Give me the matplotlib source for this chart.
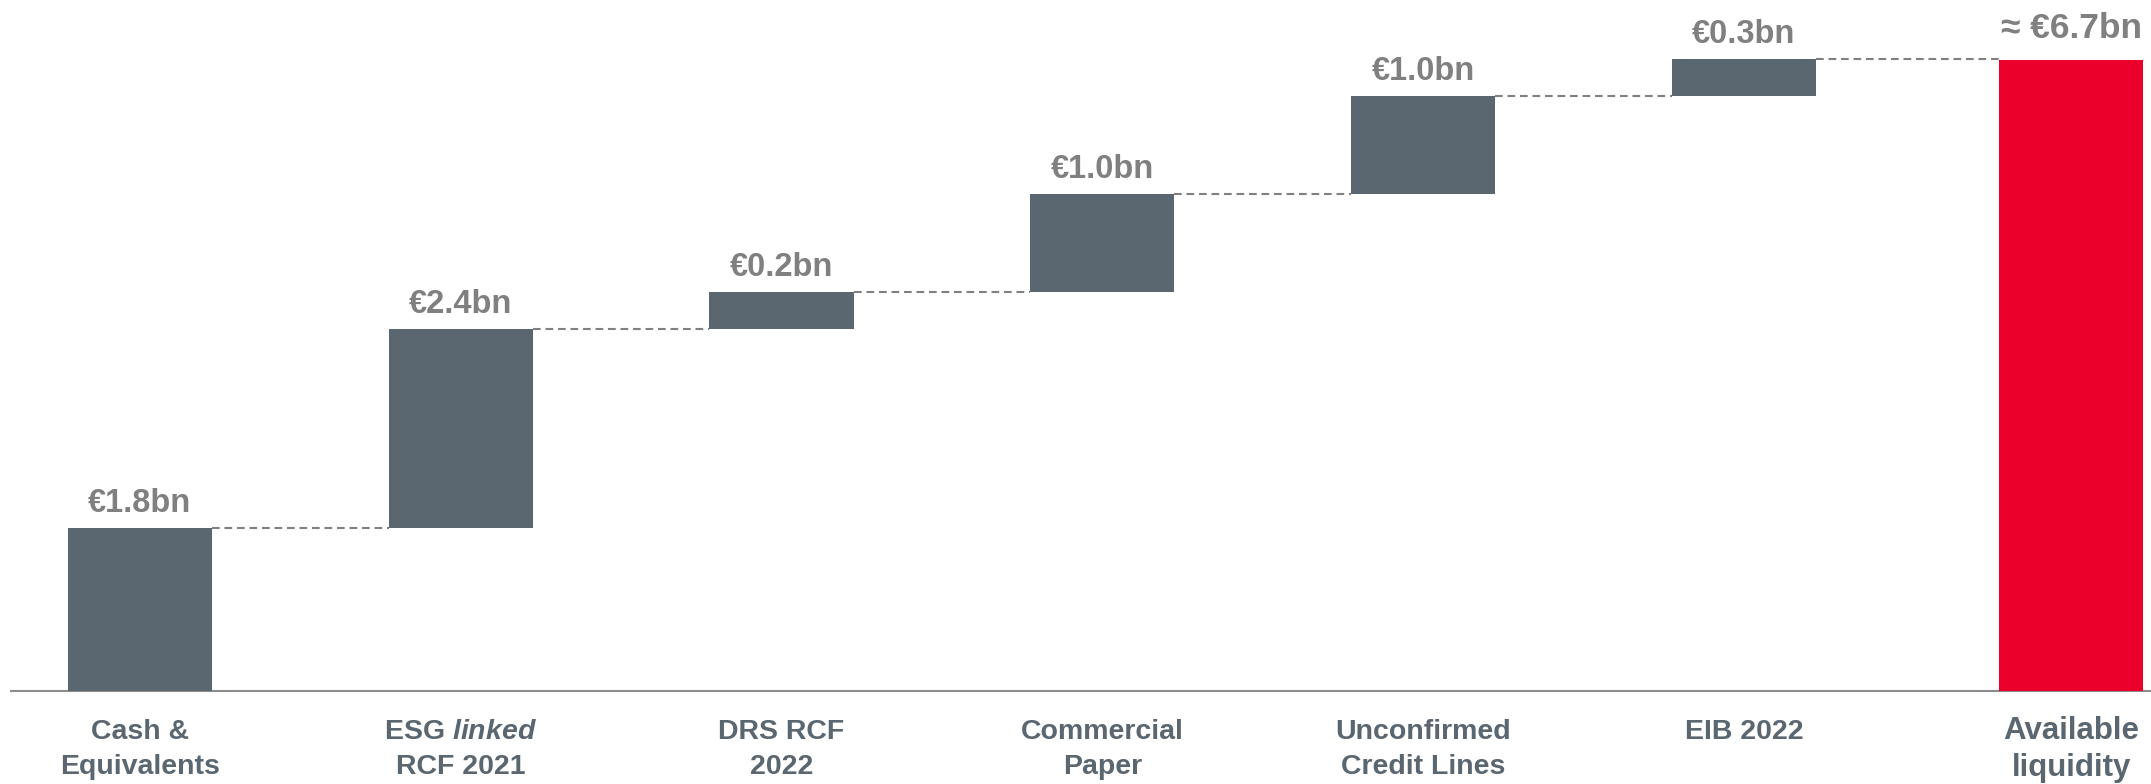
import matplotlib
matplotlib.use("Agg")
import matplotlib.pyplot as plt
import numpy as np

plt.rcParams['font.family'] = ['Liberation Sans', 'DejaVu Sans']
plt.rcParams['mathtext.fontset'] = 'custom'
plt.rcParams['mathtext.rm'] = 'Liberation Sans:bold'
plt.rcParams['mathtext.it'] = 'Liberation Sans:italic:bold'

# data (bar heights as drawn, in EUR bn)
categories = ["Cash &\nEquivalents", "ESG $\\mathit{linked}$\nRCF 2021", "DRS RCF\n2022",
              "Commercial\nPaper", "Unconfirmed\nCredit Lines", "EIB 2022", "Available\nliquidity"]
steps = [1.73, 2.11, 0.40, 1.04, 1.04, 0.39]
total = 6.70
step_labels = ["€1.8bn", "€2.4bn", "€0.2bn", "€1.0bn", "€1.0bn", "€0.3bn"]
total_label = "≈ €6.7bn"

bar_col = "#5a6670"
red = "#ea002a"
val_col = "#808080"

fig = plt.figure(figsize=(21.51, 7.84), dpi=100)
ax = fig.add_axes([0, 0, 1, 1])
ax.axis("off")
ax.set_xlim(-0.436, 6.269)
ax.set_ylim(-0.9875, 7.337)

x = np.arange(len(categories))
w = 0.449
bottoms = np.concatenate([[0], np.cumsum(steps)[:-1]])
tops = np.cumsum(steps)

# baseline
ax.plot([-0.405, 6.269], [0, 0], color="#8c8c8c", lw=1.5, zorder=1, solid_capstyle="butt")

ax.bar(x[:-1], steps, bottom=bottoms, width=w, color=bar_col, zorder=2)
ax.bar(x[-1] + 0.02, total, width=w, color=red, zorder=2)

# dashed connectors
for i in range(len(steps)):
    x_end = x[i + 1] - w / 2 + (0.02 if i == len(steps) - 1 else 0)
    ax.plot([x[i] + w / 2, x_end], [tops[i], tops[i]], color=val_col,
            lw=1.5, ls=(0, (3.7, 2.3)), zorder=1)

for i, lab in enumerate(step_labels):
    ax.annotate(lab, (x[i], tops[i]), xytext=(0, 11.5), textcoords="offset points",
                ha="center", va="baseline", fontsize=23.5, fontweight="bold", color=val_col)
ax.annotate(total_label, (x[-1] + 0.02, total), xytext=(0, 15.5), textcoords="offset points",
            ha="center", va="baseline", fontsize=25.5, fontweight="bold", color=val_col)

for i, cat in enumerate(categories[:-1]):
    ax.text(x[i], -0.30, cat, ha="center", va="top", fontsize=20.5,
            fontweight="bold", color=bar_col, linespacing=1.45)
ax.text(x[-1] + 0.02, -0.27, categories[-1], ha="center", va="top", fontsize=22.5,
        fontweight="bold", color=bar_col, linespacing=1.3)

fig.savefig("out.png", dpi=100)
